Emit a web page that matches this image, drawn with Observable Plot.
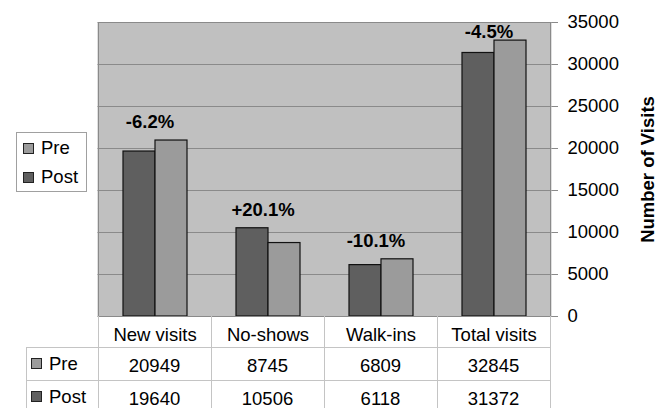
<!DOCTYPE html>
<html><head><meta charset="utf-8">
<script src="https://cdn.jsdelivr.net/npm/d3@7"></script>
<script src="https://cdn.jsdelivr.net/npm/@observablehq/plot@0.6"></script>
<style>
body{margin:0;background:#fff;}
#wrap{position:relative;width:657px;height:408px;overflow:hidden;font-family:"Liberation Sans",Arial,sans-serif;color:#000;}
#wrap svg{position:absolute;left:0;top:0;}
.ln{position:absolute;background:#c4c4c4;}
.cell{position:absolute;display:flex;align-items:center;justify-content:center;font-size:18.5px;}
.hdr{position:absolute;display:flex;align-items:center;font-size:18.5px;}
.sw{display:inline-block;width:9px;height:9px;border:1px solid #222;margin-right:7px;}
#legend{position:absolute;left:16px;top:132px;width:69px;height:58px;border:1px solid #a0a0a0;background:#fff;}
#legend .it{position:absolute;left:6px;display:flex;align-items:center;font-size:18.5px;}
</style></head><body><div id="wrap"></div>
<script>
const categories = ["New visits", "No-shows", "Walk-ins", "Total visits"];
const seriesNames = ["Pre", "Post"];
const preValues = [20949, 8745, 6809, 32845];
const postValues = [19640, 10506, 6118, 31372];
const changeLabels = ["-6.2%", "+20.1%", "-10.1%", "-4.5%"];
const yTicks = [0, 5000, 10000, 15000, 20000, 25000, 30000, 35000];
const seriesColors = {Pre: "#9b9b9b", Post: "#5f5f5f"};

const bars = [];
categories.forEach((c, i) => {
  bars.push({category: c, series: "Post", value: postValues[i]});
  bars.push({category: c, series: "Pre", value: preValues[i]});
});
const notes = categories.map((c, i) => ({
  category: c, label: changeLabels[i],
  top: Math.min(Math.max(preValues[i], postValues[i]) + 1500, 33100)
}));

const W = 657, H = 347, mL = 97, mR = 107, mT = 22, mB = 31;
const chart = Plot.plot({
  width: W, height: H,
  marginLeft: mL, marginRight: mR, marginTop: mT, marginBottom: mB,
  style: {fontFamily: "'Liberation Sans', Arial, sans-serif", fontSize: "18.5px", color: "#000", background: "transparent"},
  fx: {domain: categories, padding: 0, axis: "bottom", label: null, tickSize: 0, tickPadding: 11},
  x: {domain: ["Post", "Pre"], paddingInner: 0, paddingOuter: 0.73, axis: null},
  y: {domain: [0, 35000], ticks: yTicks, axis: "right", tickSize: 7, tickPadding: 10,
      label: "Number of Visits", labelArrow: false, labelAnchor: "center", labelOffset: 103, tickFormat: d => String(d)},
  color: {domain: ["Post", "Pre"], range: [seriesColors.Post, seriesColors.Pre]},
  marks: [
    Plot.frame({fill: "#c0c0c0", stroke: null, insetLeft: -1, insetRight: -1}),
    Plot.ruleY(yTicks, {stroke: "#8a8a8a", strokeWidth: 1, insetLeft: -0.5, insetRight: -0.5}),
    Plot.barY(bars, {fx: "category", x: "series", y: "value", fill: "series", stroke: "#111", strokeWidth: 1.2, inset: 0}),
    Plot.text(notes, {fx: "category", y: "top", text: "label", lineAnchor: "bottom", dx: -5, fontWeight: "bold", fontSize: 18.5})
  ]
});
const wrap = document.getElementById("wrap");
wrap.appendChild(chart);

// style axis label & tick lines
d3.select(chart).selectAll("text").each(function() {
  if (this.textContent.includes("Number of Visits")) {
    d3.select(this).attr("font-weight", "bold");
    this.textContent = this.textContent.replace(/\s*[→↑]\s*/g, "");
  }
});
d3.select(chart).selectAll("[aria-label='y-axis tick'] path, [aria-label='y-axis tick'] line").attr("stroke", "#8a8a8a");

// table built from the library's fx scale
const fx = chart.scale("fx");
const bw = fx.bandwidth;
const starts = categories.map(c => fx.apply(c));
const plotBottom = H - mB;
const tableLeft = 26, rowTops = [347, 380, 413];
function line(x, y, w, h, color) {
  const d = document.createElement("div");
  d.className = "ln";
  Object.assign(d.style, {left: x + "px", top: y + "px", width: w + "px", height: h + "px"});
  if (color) d.style.background = color;
  wrap.appendChild(d);
}
// plot border (left/right/bottom)
line(starts[0], mT, 1, plotBottom - mT, "#8a8a8a");
line(starts[3] + bw, mT, 1, plotBottom - mT, "#8a8a8a");
line(starts[0], plotBottom, starts[3] + bw - starts[0] + 1, 1, "#8a8a8a");
// vertical table lines
starts.forEach(s => line(s, plotBottom, 1, 408 - plotBottom));
line(starts[3] + bw, plotBottom, 1, 408 - plotBottom);
line(tableLeft, rowTops[0], 1, 408 - rowTops[0]);
rowTops.forEach(t => line(tableLeft, t, starts[3] + bw - tableLeft + 1, 1));

const rows = [{name: "Pre", vals: preValues}, {name: "Post", vals: postValues}];
rows.forEach((r, ri) => {
  const top = rowTops[ri], h = rowTops[ri + 1] - top;
  const hd = document.createElement("div");
  hd.className = "hdr";
  Object.assign(hd.style, {left: (tableLeft + 5) + "px", top: top + "px", height: h + "px"});
  hd.innerHTML = `<span class="sw" style="background:${seriesColors[r.name]}"></span>${r.name}`;
  wrap.appendChild(hd);
  r.vals.forEach((v, i) => {
    const c = document.createElement("div");
    c.className = "cell";
    Object.assign(c.style, {left: starts[i] + "px", top: (top + 2) + "px", width: bw + "px", height: h + "px"});
    c.textContent = v;
    wrap.appendChild(c);
  });
});

// legend
const lg = document.createElement("div");
lg.id = "legend";
seriesNames.forEach((n, i) => {
  const it = document.createElement("div");
  it.className = "it";
  it.style.top = (i === 0 ? 4 : 33) + "px";
  it.style.height = "22px";
  it.innerHTML = `<span class="sw" style="background:${seriesColors[n]}"></span>${n}`;
  lg.appendChild(it);
});
wrap.appendChild(lg);
</script>
</body></html>
